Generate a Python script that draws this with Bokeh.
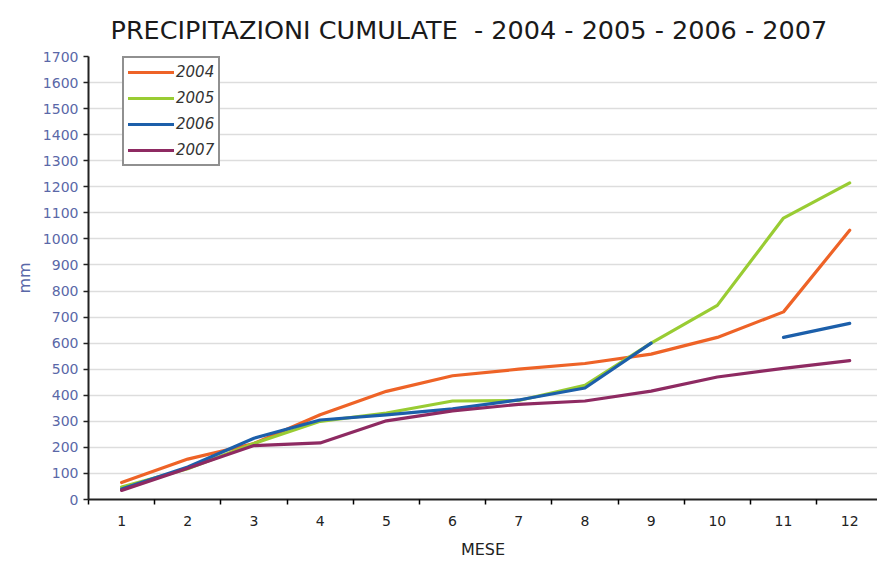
import numpy as np
from bokeh.plotting import figure
from bokeh.models import Range1d, FixedTicker, Legend, LegendItem
from bokeh.embed import file_html
from bokeh.resources import INLINE

months = [1, 2, 3, 4, 5, 6, 7, 8, 9, 10, 11, 12]
y2004 = [65, 155, 215, 325, 415, 475, 500, 522, 558, 622, 720, 1033]
y2005 = [48, 118, 215, 300, 332, 378, 380, 438, 600, 745, 1080, 1215]
y2006 = [40, 125, 235, 305, 325, 348, 382, 428, 600, float("nan"), 622, 676]
y2007 = [35, 120, 207, 217, 302, 340, 365, 378, 416, 470, 503, 533]
series_names = ["2004", "2005", "2006", "2007"]
colors = ["#EE6327", "#99CC33", "#1C5FAA", "#8E2A62"]
y_ticks = list(range(0, 1800, 100))

FONT = "DejaVu Sans"

p = figure(width=877, height=566, output_backend="svg", toolbar_location=None,
           x_range=Range1d(0.5, 12.42), y_range=Range1d(0, 1700),
           min_border_left=88, min_border_right=0, min_border_top=55, min_border_bottom=67)
p.outline_line_color = None
p.background_fill_color = "white"
p.border_fill_color = "white"

p.title.text = "PRECIPITAZIONI CUMULATE\u00a0\u00a0- 2004 - 2005 - 2006 - 2007"
p.title.text_font = FONT
p.title.text_font_size = "25.5px"
p.title.text_font_style = "normal"
p.title.text_color = "#1a1a1a"
p.title.align = "left"
p.title.offset = 22
p.title.standoff = 24
p.title.text_line_height = 1.0

renderers = []
for ys, c in zip([y2004, y2005, y2006, y2007], colors):
    r = p.line(months, ys, line_color=c, line_width=3.2, line_join="round", line_cap="round")
    renderers.append(r)

xa = p.xaxis[0]
xa.ticker = FixedTicker(ticks=months, minor_ticks=[m - 0.5 for m in months] + [12.5])
xa.major_tick_out = 0
xa.major_tick_in = 0
xa.minor_tick_out = 5
xa.minor_tick_in = 0
xa.minor_tick_line_color = "black"
xa.minor_tick_line_width = 1.5
xa.axis_line_color = "#222222"
xa.axis_line_width = 2
xa.major_label_text_font = FONT
xa.major_label_text_font_size = "14px"
xa.major_label_text_color = "#222222"
xa.major_label_standoff = 11
xa.axis_label = "MESE"
xa.axis_label_text_font = FONT
xa.axis_label_text_font_size = "16px"
xa.axis_label_text_font_style = "normal"
xa.axis_label_text_color = "#222222"
xa.axis_label_standoff = 11

ya = p.yaxis[0]
ya.ticker = FixedTicker(ticks=y_ticks)
ya.major_tick_out = 5
ya.major_tick_in = 0
ya.minor_tick_out = 0
ya.minor_tick_in = 0
ya.major_tick_line_color = "#222222"
ya.major_tick_line_width = 1.5
ya.axis_line_color = "#222222"
ya.axis_line_width = 2
ya.major_label_text_font = FONT
ya.major_label_text_font_size = "14px"
ya.major_label_text_color = "#5A68A8"
ya.major_label_standoff = 5
ya.axis_label = "mm"
ya.axis_label_text_font = FONT
ya.axis_label_text_font_size = "16px"
ya.axis_label_text_font_style = "normal"
ya.axis_label_text_color = "#5A68A8"
ya.axis_label_standoff = 6

p.xgrid.grid_line_color = None
p.ygrid.ticker = FixedTicker(ticks=y_ticks)
p.ygrid.grid_line_color = "#dddddd"
p.ygrid.grid_line_width = 1.5

legend = Legend(items=[LegendItem(label=n, renderers=[r]) for n, r in zip(series_names, renderers)],
                location=(34, 333))
legend.label_text_font = FONT
legend.label_text_font_style = "italic"
legend.label_text_font_size = "15px"
legend.label_text_color = "#333333"
legend.glyph_width = 46
legend.glyph_height = 20
legend.spacing = 6
legend.padding = 4
legend.margin = 0
legend.label_standoff = 2
legend.border_line_color = "#222222"
legend.border_line_width = 2
legend.background_fill_color = "white"
legend.background_fill_alpha = 1
p.add_layout(legend)

open("out.html", "w").write(file_html(p, INLINE))
